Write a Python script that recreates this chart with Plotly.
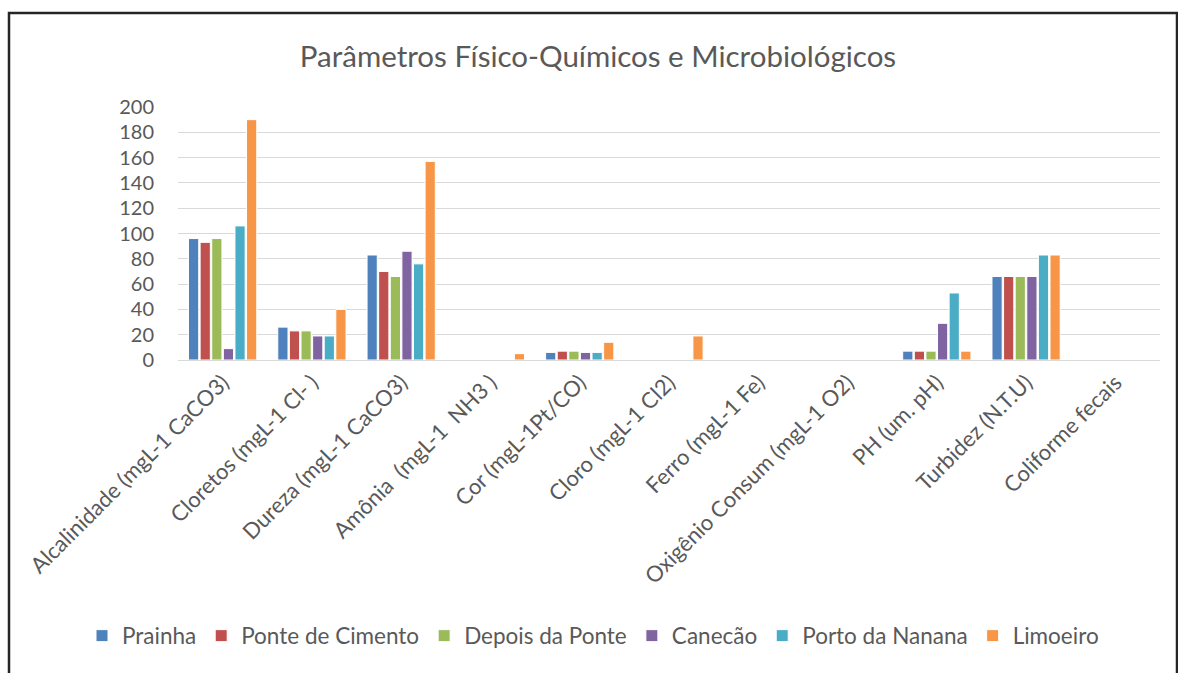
import plotly.graph_objects as go

categories = ["Alcalinidade (mgL-1 CaCO3)", "Cloretos (mgL-1 Cl- )", "Dureza (mgL-1 CaCO3)",
              "Amônia  (mgL-1  NH3 )", "Cor (mgL-1Pt/CO)", "Cloro (mgL-1 Cl2)", "Ferro (mgL-1 Fe)",
              "Oxigênio Consum (mgL-1 O2)", "PH (um. pH)", "Turbidez (N.T.U)", "Coliforme fecais"]

prainha = [96, 26, 83, 0, 6, 0, 0, 0, 7, 66, 0]
ponte_cimento = [93, 23, 70, 0, 7, 0, 0, 0, 7, 66, 0]
depois_ponte = [96, 23, 66, 0, 7, 0, 0, 0, 7, 66, 0]
canecao = [9, 19, 86, 0, 6, 0, 0, 0, 29, 66, 0]
porto_nanana = [106, 19, 76, 0, 6, 0, 0, 0, 53, 83, 0]
limoeiro = [190, 40, 157, 5, 14, 19, 0, 0, 7, 83, 0]

series_names = ["Prainha", "Ponte de Cimento", "Depois da Ponte", "Canecão", "Porto da Nanana", "Limoeiro"]
series_values = [prainha, ponte_cimento, depois_ponte, canecao, porto_nanana, limoeiro]
colors = ["#4F81BD", "#C0504D", "#9BBB59", "#8064A2", "#4BACC6", "#F79646"]

FONT = "Lato, 'Open Sans', sans-serif"

fig = go.Figure()
for name, vals, c in zip(series_names, series_values, colors):
    fig.add_trace(go.Bar(x=categories, y=vals, name=name,
                         marker=dict(color=c, line=dict(color="white", width=1))))

W, H = 1178, 673
L, R, T, B = 178, 18, 107, 313
pw, ph = W - L - R, H - T - B

def px_x(px):
    return (px - L) / pw

def px_y(py):
    return 1 - (py - T) / ph

fig.update_layout(
    width=W, height=H,
    margin=dict(l=L, r=R, t=T, b=B, autoexpand=False),
    paper_bgcolor="white", plot_bgcolor="white",
    barmode="group", bargap=0.22, bargroupgap=0.12,
    font=dict(family=FONT, color="#595959"),
    title=dict(text="Parâmetros Físico-Químicos e Microbiológicos",
               font=dict(size=29.5, color="#595959", family=FONT),
               x=px_x(598), xref="paper", xanchor="center",
               y=1 - 57 / H, yref="container", yanchor="middle"),
    legend=dict(orientation="h", x=px_x(82), xanchor="left", y=px_y(636), yanchor="middle",
                font=dict(size=22.5, color="#595959", family=FONT),
                itemwidth=30, tracegroupgap=0, traceorder="normal"),
    xaxis=dict(tickangle=-45, tickfont=dict(size=22, color="#595959", family=FONT),
               showline=True, linecolor="#d9d9d9", linewidth=1, showgrid=False),
    yaxis=dict(range=[0, 200], dtick=20, tickfont=dict(size=20, color="#595959", family=FONT),
               gridcolor="#d9d9d9", gridwidth=1, zeroline=False, showline=False,
               ticks="outside", ticklen=19, tickcolor="rgba(0,0,0,0)"),
    shapes=[dict(type="rect", xref="paper", yref="paper",
                 x0=px_x(9), x1=px_x(1177), y0=px_y(700), y1=px_y(13),
                 line=dict(color="#262626", width=2.5), fillcolor="rgba(0,0,0,0)", layer="above")],
)

fig.write_html("out.html", config={"displayModeBar": False},
               post_script="document.body.style.margin='0px';")
